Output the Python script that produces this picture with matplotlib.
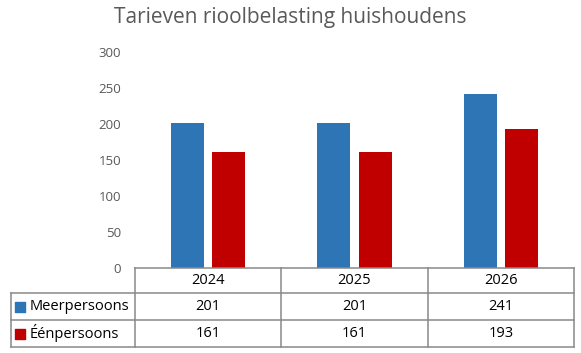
import matplotlib.pyplot as plt
import numpy as np

years = ['2024', '2025', '2026']
series = ['Meerpersoons', 'Éénpersoons']
meer = [201, 201, 241]
een = [161, 161, 193]
colors = ['#2E75B6', '#C00000']

plt.rcParams['font.family'] = ['Open Sans', 'DejaVu Sans']

fig = plt.figure(figsize=(5.81, 3.53), dpi=100)
W, H = 581, 353
ax = fig.add_axes([135 / W, (H - 268) / H, (574 - 135) / W, (268 - 52) / H])

x = np.arange(len(years))
bw = 0.225
ax.bar(x - 0.142, meer, bw, color=colors[0])
ax.bar(x + 0.142, een, bw, color=colors[1])

ax.set_xlim(-0.5, 2.5)
ax.set_ylim(0, 300)
ax.set_yticks(range(0, 301, 50))
ax.tick_params(axis='y', length=0, labelsize=9.5, colors='#595959', pad=10)
ax.set_xticks([])
for s in ['top', 'right', 'left', 'bottom']:
    ax.spines[s].set_visible(False)

fig.text(0.5, 1 - 17 / H, 'Tarieven rioolbelasting huishoudens', ha='center', va='center',
         fontsize=15, color='#595959')

# data table under the axes
lc = '#898989'
ax_h = 268 - 52
rows = [0, -25 / ax_h, -52 / ax_h, -79 / ax_h]
left = -0.5 - 124 / 146
tr = ax.get_xaxis_transform()
kw = dict(color=lc, lw=1.1, transform=tr, clip_on=False)
# horizontal lines
ax.plot([-0.5, 2.5], [rows[0], rows[0]], **kw)
for r in rows[1:]:
    ax.plot([left, 2.5], [r, r], **kw)
# vertical lines
for xv in [-0.5, 0.5, 1.5, 2.5]:
    ax.plot([xv, xv], [rows[0], rows[3]], **kw)
ax.plot([left, left], [rows[1], rows[3]], **kw)

for i, yr in enumerate(years):
    ax.text(i, (rows[0] + rows[1]) / 2, yr, transform=tr, ha='center', va='center', fontsize=10.5)
for j, vals in enumerate([meer, een]):
    yc = (rows[j + 1] + rows[j + 2]) / 2
    for i, v in enumerate(vals):
        ax.text(i, yc, str(v), transform=tr, ha='center', va='center', fontsize=10.5)
    ax.scatter([left + 9 / 146], [yc], marker='s', s=42, color=colors[j], transform=tr, clip_on=False)
    ax.text(left + 19 / 146, yc, series[j], transform=tr, ha='left', va='center', fontsize=10.5)

fig.savefig('out.png', dpi=100)
